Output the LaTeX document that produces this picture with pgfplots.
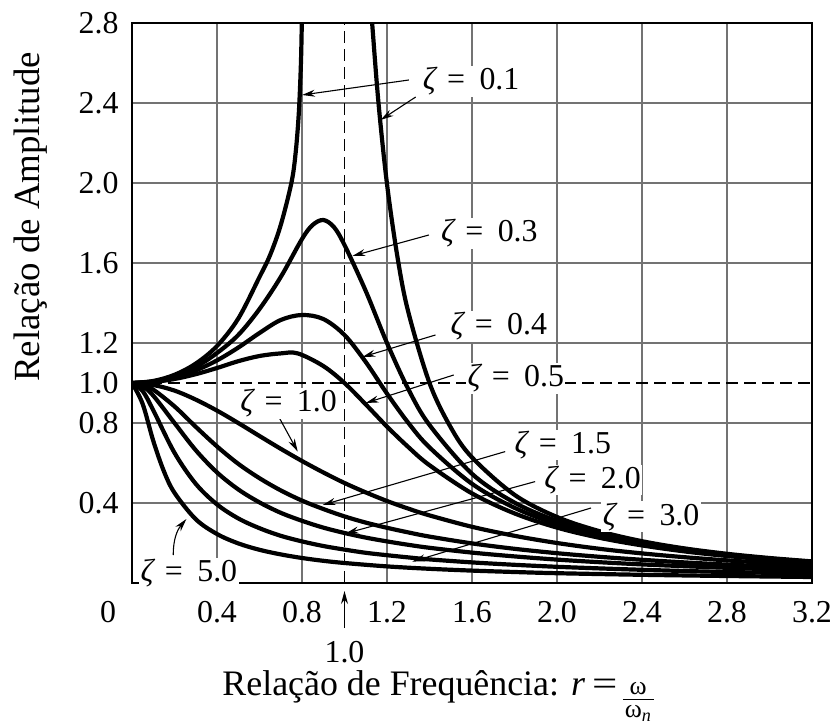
\documentclass[border=0pt]{standalone}
\usepackage{fontspec}
\setmainfont{Liberation Serif}
\usepackage{pgfplots}
\pgfplotsset{compat=1.18}
\usetikzlibrary{arrows.meta}
\newcommand{\zl}[1]{\textit{ζ}\hspace{0.3em}=\hspace{0.45em}#1}
\begin{document}
\begin{tikzpicture}[x=1bp,y=1bp,
  curve/.style={black, line width=4.2bp, smooth, tension=0.55, no markers},
  arr/.style={-{Stealth[length=13bp,width=7bp]}, line width=1.1bp},
  zlab/.style={font=\fontsize{32}{36}\selectfont, anchor=base, fill=white, inner sep=1.5bp}]
\begin{axis}[
  scale only axis, width=680bp, height=560bp,
  xmin=0, xmax=3.2, ymin=0, ymax=2.8,
  xtick={0.4,0.8,1.2,1.6,2.0,2.4,2.8,3.2},
  xticklabels={0.4,0.8,1.2,1.6,2.0,2.4,2.8,3.2},
  ytick={0.4,0.8,1.2,1.6,2.0,2.4,2.8},
  yticklabels={0.4,0.8,1.2,1.6,2.0,2.4,2.8},
  extra y ticks={1.0}, extra y tick labels={1.0},
  extra x ticks={0}, extra x tick labels={0},
  extra tick style={grid=none},
  extra x tick style={xticklabel style={xshift=-24bp}},
  grid=major, major grid style={black!55, line width=1.1bp},
  major tick length=0pt,
  axis line style={line width=2.2bp},
  tick label style={font=\fontsize{32}{36}\selectfont},
  xticklabel style={yshift=-15bp},
  yticklabel style={xshift=-10bp},
  clip mode=individual,
]
% dashed reference lines
\draw[line width=1.8bp, dash pattern=on 12bp off 6bp] (axis cs:1,0) -- (axis cs:1,2.8);
\draw[line width=1.8bp, dash pattern=on 12bp off 6bp] (axis cs:0,1) -- (axis cs:3.2,1);

% zeta = 0.1 (two branches)
\addplot[curve] coordinates {(0,1)(0.1,1.010)(0.2,1.041)(0.3,1.097)(0.4,1.185)(0.5,1.322)(0.6,1.53)(0.65,1.64)(0.7,1.79)(0.75,2.0)(0.77,2.15)(0.785,2.35)(0.795,2.6)(0.80,2.85)(0.803,3.0)};
\addplot[curve] coordinates {(1.115,3.0)(1.13,2.8)(1.16,2.40)(1.2,1.995)(1.25,1.625)(1.3,1.356)(1.4,1.0)(1.5,0.778)(1.6,0.628)(1.8,0.441)(2.0,0.330)(2.2,0.259)(2.4,0.209)(2.6,0.173)(2.8,0.146)(3.0,0.125)(3.2,0.108)};
% zeta = 0.3
\addplot[curve] coordinates {(0,1)(0.1,1.008)(0.2,1.034)(0.3,1.08)(0.4,1.15)(0.5,1.24)(0.6,1.37)(0.7,1.53)(0.8,1.72)(0.85,1.79)(0.9,1.815)(0.95,1.78)(1.0,1.69)(1.1,1.46)(1.2,1.20)(1.3,0.97)(1.4,0.79)(1.6,0.546)(1.8,0.402)(2.0,0.310)(2.2,0.246)(2.4,0.201)(2.6,0.168)(2.8,0.142)(3.0,0.122)(3.2,0.106)};
% zeta = 0.4
\addplot[curve] coordinates {(0,1)(0.1,1.007)(0.2,1.028)(0.3,1.063)(0.4,1.113)(0.5,1.177)(0.6,1.25)(0.7,1.315)(0.8,1.34)(0.9,1.32)(1.0,1.24)(1.1,1.105)(1.2,0.947)(1.3,0.801)(1.4,0.678)(1.6,0.496)(1.8,0.376)(2.0,0.294)(2.2,0.237)(2.4,0.195)(2.6,0.163)(2.8,0.139)(3.0,0.120)(3.2,0.104)};
% zeta = 0.5
\addplot[curve] coordinates {(0,1)(0.1,1.005)(0.2,1.020)(0.3,1.044)(0.4,1.075)(0.5,1.109)(0.6,1.135)(0.7,1.148)(0.78,1.148)(0.9,1.085)(1.0,1.0)(1.1,0.893)(1.2,0.782)(1.3,0.680)(1.4,0.589)(1.6,0.448)(1.8,0.348)(2.0,0.277)(2.2,0.226)(2.4,0.188)(2.6,0.158)(2.8,0.135)(3.0,0.117)(3.2,0.102)};
% zeta = 1.0
\addplot[curve] coordinates {(0,1)(0.1,0.990)(0.2,0.962)(0.3,0.917)(0.4,0.862)(0.5,0.800)(0.6,0.735)(0.7,0.671)(0.8,0.610)(0.9,0.553)(1.0,0.500)(1.1,0.453)(1.2,0.410)(1.3,0.372)(1.4,0.338)(1.6,0.281)(1.8,0.236)(2.0,0.200)(2.2,0.171)(2.4,0.148)(2.6,0.129)(2.8,0.113)(3.0,0.100)(3.2,0.089)};
% zeta = 1.5
\addplot[curve] coordinates {(0,1)(0.05,0.991)(0.1,0.967)(0.2,0.883)(0.3,0.781)(0.4,0.683)(0.5,0.596)(0.6,0.524)(0.7,0.463)(0.8,0.412)(0.9,0.370)(1.0,0.333)(1.1,0.302)(1.2,0.276)(1.3,0.253)(1.4,0.232)(1.6,0.198)(1.8,0.171)(2.0,0.149)(2.2,0.131)(2.4,0.116)(2.6,0.103)(2.8,0.092)(3.0,0.083)(3.2,0.075)};
% zeta = 2.0
\addplot[curve] coordinates {(0,1)(0.05,0.983)(0.1,0.937)(0.2,0.800)(0.3,0.664)(0.4,0.553)(0.5,0.468)(0.6,0.403)(0.7,0.351)(0.8,0.311)(0.9,0.277)(1.0,0.250)(1.1,0.227)(1.2,0.208)(1.3,0.191)(1.4,0.176)(1.6,0.152)(1.8,0.133)(2.0,0.117)(2.2,0.104)(2.4,0.093)(2.6,0.084)(2.8,0.076)(3.0,0.069)(3.2,0.063)};
% zeta = 3.0
\addplot[curve] coordinates {(0,1)(0.05,0.960)(0.1,0.864)(0.2,0.651)(0.3,0.496)(0.4,0.393)(0.5,0.323)(0.6,0.274)(0.7,0.236)(0.8,0.208)(0.9,0.185)(1.0,0.167)(1.1,0.151)(1.2,0.139)(1.3,0.128)(1.4,0.118)(1.6,0.103)(1.8,0.091)(2.0,0.081)(2.2,0.073)(2.4,0.066)(2.6,0.060)(2.8,0.055)(3.0,0.051)(3.2,0.047)};
% zeta = 5.0
\addplot[curve] coordinates {(0,1)(0.05,0.896)(0.1,0.711)(0.15,0.559)(0.2,0.451)(0.3,0.319)(0.4,0.245)(0.5,0.198)(0.6,0.166)(0.7,0.143)(0.8,0.125)(0.9,0.111)(1.0,0.100)(1.2,0.083)(1.4,0.071)(1.6,0.062)(1.8,0.055)(2.0,0.049)(2.4,0.041)(2.8,0.035)(3.2,0.030)};

% arrows
\draw[arr] (axis cs:1.303,2.515) -- (axis cs:0.80,2.44);
\draw[arr] (axis cs:1.335,2.43) -- (axis cs:1.17,2.315);
\draw[arr] (axis cs:1.397,1.74) -- (axis cs:1.037,1.635);
\draw[arr] (axis cs:1.428,1.24) -- (axis cs:1.084,1.13);
\draw[arr] (axis cs:1.514,1.04) -- (axis cs:1.10,0.90);
\draw[arr] (axis cs:0.686,0.84) -- (axis cs:0.78,0.657);
\draw[arr] (axis cs:1.756,0.657) -- (axis cs:0.897,0.39);
\draw[arr] (axis cs:1.897,0.507) -- (axis cs:1.006,0.248);
\draw[arr] (axis cs:2.16,0.375) -- (axis cs:1.319,0.107);
\draw[arr] (axis cs:0.194,0.14) to[bend left=20] (axis cs:0.256,0.32);

% labels
\node[zlab] at (axis cs:1.596,2.465) {\zl{0.1}};
\node[zlab] at (axis cs:1.682,1.707) {\zl{0.3}};
\node[zlab] at (axis cs:1.726,1.24) {\zl{0.4}};
\node[zlab] at (axis cs:1.806,0.982) {\zl{0.5}};
\node[zlab] at (axis cs:0.737,0.857) {\zl{1.0}};
\node[zlab] at (axis cs:2.027,0.648) {\zl{1.5}};
\node[zlab] at (axis cs:2.167,0.473) {\zl{2.0}};
\node[zlab] at (axis cs:2.443,0.29) {\zl{3.0}};
\node[zlab] at (axis cs:0.268,0.007) {\zl{5.0}};

% 1.0 marker below the axis
\draw[arr] (axis cs:1.0,-0.225) -- (axis cs:1.0,-0.04);
\node[font=\fontsize{32}{36}\selectfont] at (axis cs:1.0,-0.345) {1.0};

% axis titles
\node[font=\fontsize{37}{40}\selectfont, rotate=90] at (axis cs:-0.478,1.83) {Relação de Amplitude};
\node[font=\fontsize{36}{40}\selectfont, anchor=base] at (axis cs:1.44,-0.562) {Relação de Frequência: \textit{r}\hspace{0.2em}\scalebox{1.25}[1]{=}\hspace{0.15em}\raisebox{-0.33em}{\fontsize{26}{26}\selectfont\begin{tabular}{@{\hspace{2bp}}c@{\hspace{2bp}}}ω\\[-3bp]\hline\rule{0pt}{17bp}ω\textsubscript{\textit{n}}\end{tabular}}};
\end{axis}
\pgfresetboundingbox
\path (-132bp,-141bp) rectangle (703bp,583bp);
\end{tikzpicture}
\end{document}
